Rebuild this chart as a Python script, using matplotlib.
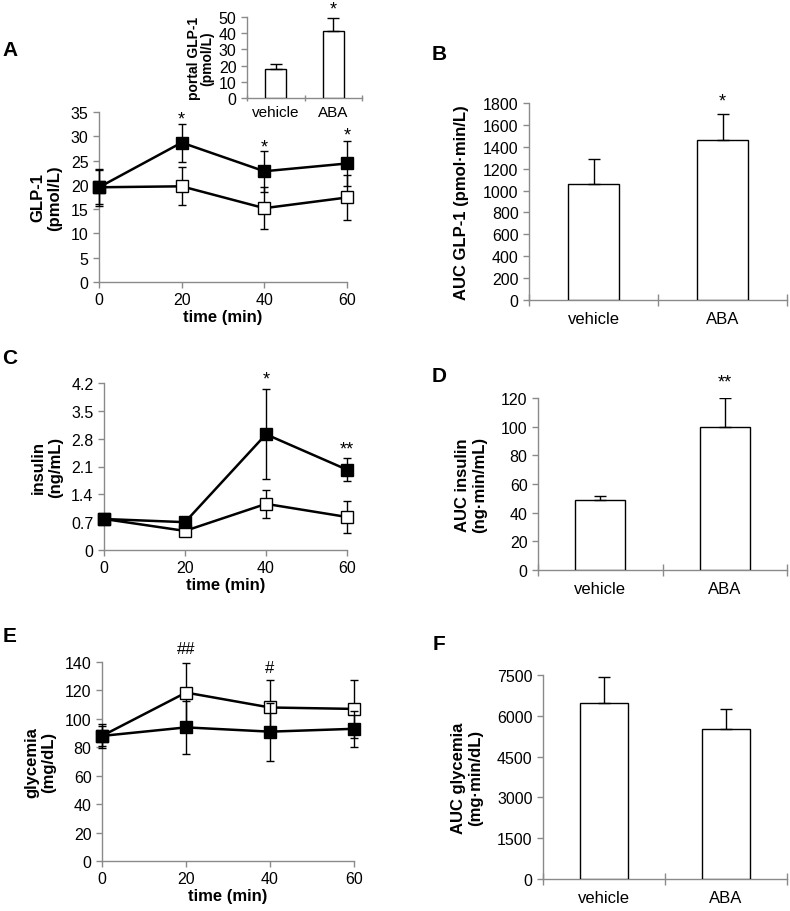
import matplotlib
matplotlib.use("Agg")
import matplotlib.pyplot as plt

plt.rcParams['font.family'] = ['Liberation Sans', 'DejaVu Sans']

# time course data
time = [0, 20, 40, 60]

glp1_veh = [19.5, 19.7, 15.2, 17.4]
glp1_veh_err = [3.8, 3.9, 4.3, 4.6]
glp1_aba = [19.5, 28.7, 22.8, 24.4]
glp1_aba_err = [3.5, 3.9, 4.2, 4.6]

ins_veh = [0.78, 0.48, 1.16, 0.83]
ins_veh_err = [0.05, 0.05, 0.35, 0.40]
ins_aba = [0.78, 0.70, 2.91, 2.02]
ins_aba_err = [0.05, 0.06, 1.13, 0.29]

gly_veh = [88, 118.5, 108, 107]
gly_veh_err = [7, 21, 19, 20.5]
gly_aba = [88, 94, 91, 93]
gly_aba_err = [8.7, 18.8, 20.5, 12.5]

# bar data
groups = ["vehicle", "ABA"]
portal_glp1 = [18, 41.5]
portal_glp1_err = [3, 8]
auc_glp1 = [1062, 1465]
auc_glp1_err = [228, 233]
auc_ins = [48.8, 100]
auc_ins_err = [3, 19.8]
auc_gly = [6460, 5500]
auc_gly_err = [980, 750]

GRAY = '#8a8a8a'
W, H = 790, 912


def make_axes(fig, left, top, right, bottom):
    ax = fig.add_axes([left / W, 1 - bottom / H, (right - left) / W, (bottom - top) / H])
    for s in ['top', 'right']:
        ax.spines[s].set_visible(False)
    for s in ['left', 'bottom']:
        ax.spines[s].set_color(GRAY)
        ax.spines[s].set_linewidth(1)
    ax.tick_params(colors=GRAY, labelcolor='black', labelsize=11.5, length=4, width=1)
    return ax


def line_panel(ax, veh, veh_err, aba, aba_err, ymax, ystep):
    ax.errorbar(time, veh, yerr=veh_err, color='black', lw=1.8, marker='s', ms=8,
                mfc='white', mec='black', mew=1, ecolor='black', elinewidth=1, capsize=3,
                zorder=3, clip_on=False)
    ax.errorbar(time, aba, yerr=aba_err, color='black', lw=1.8, marker='s', ms=9,
                mfc='black', mec='black', ecolor='black', elinewidth=1, capsize=3,
                zorder=4, clip_on=False)
    ax.set_xlim(0, 60)
    ax.set_ylim(0, ymax)
    ax.set_xticks(time)
    ax.set_yticks([i * ystep for i in range(int(round(ymax / ystep)) + 1)])
    ax.set_xlabel("time (min)", fontsize=12, fontweight='bold', labelpad=1)


def bar_panel(ax, vals, errs, ymax, ystep, width=0.4):
    x = range(len(groups))
    ax.bar(x, vals, width=width, color='white', edgecolor='black', lw=1, zorder=3)
    ax.errorbar(x, vals, yerr=[[0, 0], errs], fmt='none', ecolor='black', elinewidth=1,
                capsize=4, zorder=4)
    ax.set_xlim(-0.5, 1.5)
    ax.set_ylim(0, ymax)
    ax.set_xticks([-0.5, 0.5, 1.5])
    ax.set_xticklabels([])
    ax.set_xticks(list(x), minor=True)
    ax.set_xticklabels(groups, minor=True)
    ax.tick_params(axis='x', which='minor', length=0, labelsize=12, pad=8)
    ax.tick_params(axis='x', which='major', direction='inout', length=8)
    ax.set_yticks([i * ystep for i in range(int(round(ymax / ystep)) + 1)])


fig = plt.figure(figsize=(7.9, 9.12), dpi=100)

# A: GLP-1 time course
axA = make_axes(fig, 99, 113, 347, 283)
line_panel(axA, glp1_veh, glp1_veh_err, glp1_aba, glp1_aba_err, 35, 5)
axA.set_ylabel("GLP-1\n(pmol/L)", fontsize=12, fontweight='bold', labelpad=6)
for t, y in zip([20, 40, 60], [33.6, 27.8, 30.3]):
    axA.text(t, y, "*", ha='center', va='center', fontsize=13, clip_on=False)

# A inset: portal GLP-1
axI = make_axes(fig, 247, 18, 362, 99)
bar_panel(axI, portal_glp1, portal_glp1_err, 50, 10, width=0.37)
axI.tick_params(axis='x', which='minor', labelsize=11, pad=5)
axI.tick_params(axis='x', which='major', length=5)
axI.set_ylabel("portal GLP-1\n(pmol/L)", fontsize=10, fontweight='bold', labelpad=3,
               linespacing=1.0)
axI.text(1, 55, "*", ha='center', va='center', fontsize=13, clip_on=False)

# B: AUC GLP-1
axB = make_axes(fig, 529, 104, 787, 301)
bar_panel(axB, auc_glp1, auc_glp1_err, 1800, 200)
axB.set_ylabel("AUC GLP-1 (pmol·min/L)", fontsize=12, fontweight='bold', labelpad=10)
axB.text(1, 1818, "*", ha='center', va='center', fontsize=13, clip_on=False)

# C: insulin time course
axC = make_axes(fig, 104, 384, 347, 551)
line_panel(axC, ins_veh, ins_veh_err, ins_aba, ins_aba_err, 4.2, 0.7)
axC.set_yticklabels(["0", "0.7", "1.4", "2.1", "2.8", "3.5", "4.2"])
axC.set_ylabel("insulin\n(ng/mL)", fontsize=12, fontweight='bold', labelpad=6)
axC.text(40, 4.30, "*", ha='center', va='center', fontsize=13, clip_on=False)
axC.text(60, 2.54, "**", ha='center', va='center', fontsize=13)

# D: AUC insulin
axD = make_axes(fig, 538, 399, 787, 571)
bar_panel(axD, auc_ins, auc_ins_err, 120, 20)
axD.set_ylabel("AUC insulin\n(ng·min/mL)", fontsize=12, fontweight='bold', labelpad=10)
axD.text(1, 131, "**", ha='center', va='center', fontsize=13, clip_on=False)

# E: glycemia time course
axE = make_axes(fig, 102, 663, 354, 862)
line_panel(axE, gly_veh, gly_veh_err, gly_aba, gly_aba_err, 140, 20)
axE.set_ylabel("glycemia\n(mg/dL)", fontsize=12, fontweight='bold', labelpad=6)
axE.text(20, 149.8, "##", ha='center', va='center', fontsize=12, clip_on=False)
axE.text(40, 135.8, "#", ha='center', va='center', fontsize=12)

# F: AUC glycemia
axF = make_axes(fig, 543, 676, 787, 880)
bar_panel(axF, auc_gly, auc_gly_err, 7500, 1500)
axF.set_ylabel("AUC glycemia\n(mg·min/dL)", fontsize=12, fontweight='bold', labelpad=10)

# panel letters
for letter, x, y in [("A", 10, 50), ("B", 439, 54), ("C", 10, 358),
                     ("D", 439, 377), ("E", 10, 637), ("F", 439, 645)]:
    fig.text(x / W, 1 - y / H, letter, fontsize=15, fontweight='bold', ha='center', va='center')

fig.savefig("out.png", dpi=100)
